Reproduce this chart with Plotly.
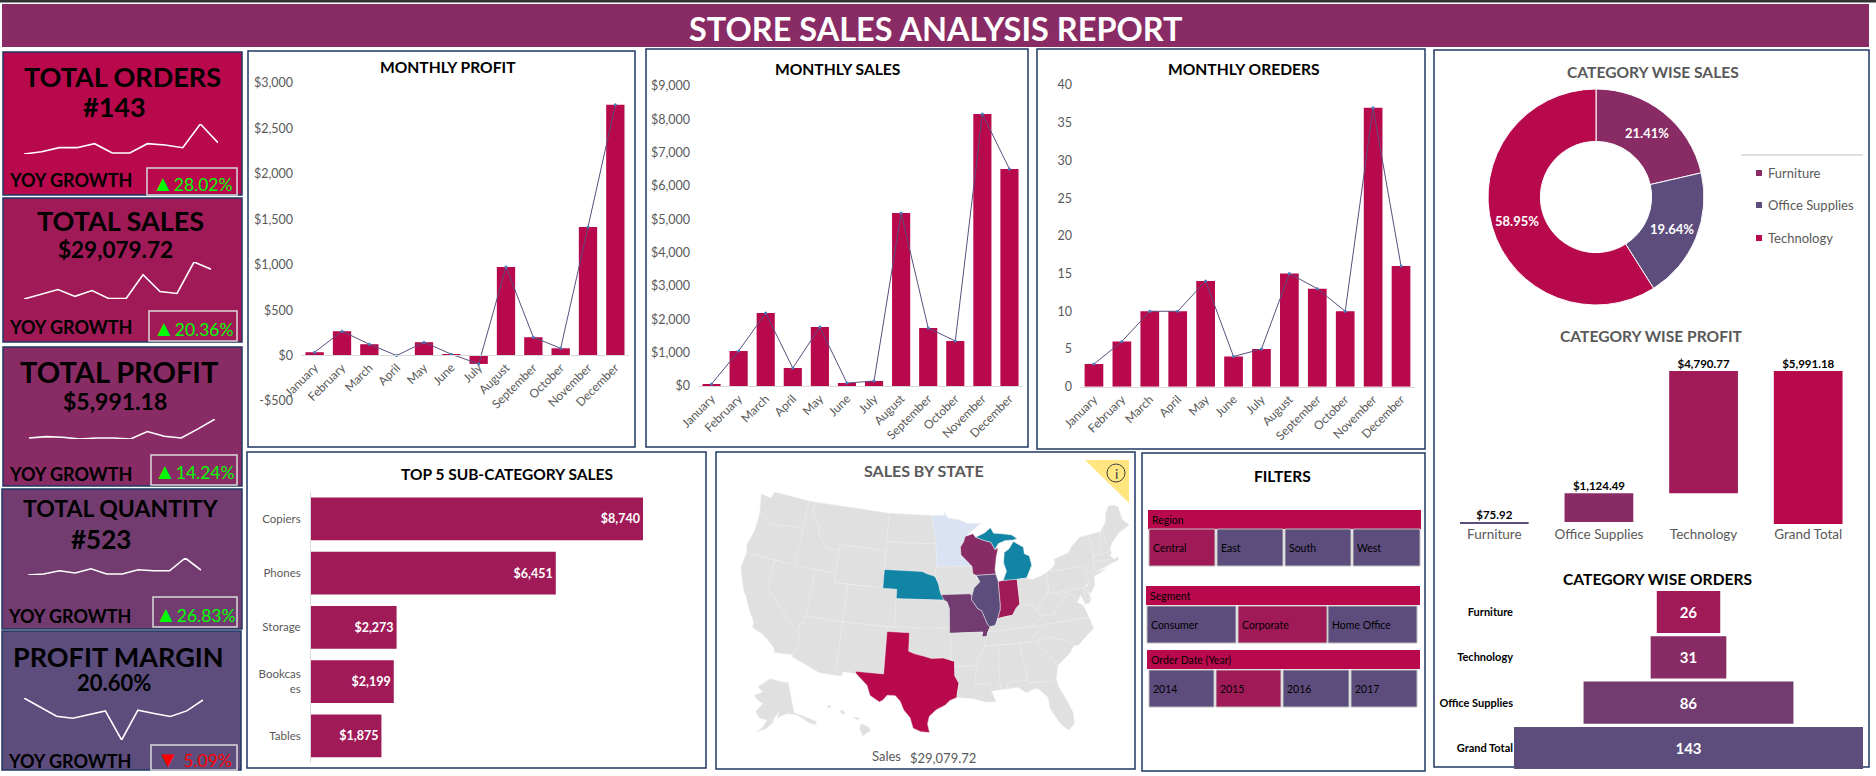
import plotly.graph_objects as go

W, H = 1876, 776
FONT = "Lato"
CRIMSON, RASPBERRY, PLUM, GRAPE, INDIGO = "#B7094C", "#A01A58", "#892B64", "#723C70", "#5C4D7D"
TEAL, ICE, LAND = "#1284A6", "#DAE3F3", "#E0E0E0"
NAVY, GREY = "#1F3864", "#595959"

MONTHS = ["January", "February", "March", "April", "May", "June", "July",
          "August", "September", "October", "November", "December"]
MONTHLY_PROFIT = [37, 268, 125, 0, 147, 15, -92, 975, 202, 80, 1415, 2760]
MONTHLY_SALES = [60, 1050, 2190, 540, 1770, 90, 150, 5190, 1740, 1350, 8160, 6510]
MONTHLY_ORDERS = [3, 6, 10, 10, 14, 4, 5, 15, 13, 10, 37, 16]
PROFIT_TICKS = [-500, 0, 500, 1000, 1500, 2000, 2500, 3000]
PROFIT_LABELS = ["-$500", "$0", "$500", "$1,000", "$1,500", "$2,000", "$2,500", "$3,000"]
SALES_TICKS = [0, 1000, 2000, 3000, 4000, 5000, 6000, 7000, 8000, 9000]
SALES_LABELS = ["$0", "$1,000", "$2,000", "$3,000", "$4,000", "$5,000", "$6,000", "$7,000", "$8,000", "$9,000"]
ORDER_TICKS = [0, 5, 10, 15, 20, 25, 30, 35, 40]
ORDER_LABELS = ["0", "5", "10", "15", "20", "25", "30", "35", "40"]

SUBCATS = ["Copiers", "Phones", "Storage", "Bookcas<br>es", "Tables"]
SUBCAT_SALES = [8740, 6451, 2273, 2199, 1875]
SUBCAT_TEXT = ["$8,740", "$6,451", "$2,273", "$2,199", "$1,875"]

CATS = ["Furniture", "Office Supplies", "Technology"]
CAT_SHARE = [21.41, 19.64, 58.95]
CAT_SHARE_TEXT = ["21.41%", "19.64%", "58.95%"]
WF_CATS = ["Furniture", "Office Supplies", "Technology", "Grand Total"]
WF_DELTA = [75.92, 1124.49, 4790.77, 5991.18]
WF_BASE = [0, 75.92, 1200.41, 0]
WF_TEXT = ["$75.92", "$1,124.49", "$4,790.77", "$5,991.18"]
FUNNEL_CATS = ["Furniture", "Technology", "Office Supplies", "Grand Total"]
FUNNEL_VALUES = [26, 31, 86, 143]

SPARK_ORDERS = [8, 15, 27, 27, 39, 11, 11, 39, 35, 27, 98, 42]
SPARK_SALES = [2, 17, 31, 10, 28, 3, 3, 76, 25, 19, 115, 93]
SPARK_PROFIT = [3, 7, 5, 0, 3, 3, 0, 22, 8, 3, 30, 59]
SPARK_QTY = [0, 3, 13, 6, 19, 3, 3, 16, 13, 13, 52, 15]
SPARK_MARGIN = [127, 100, 72, 66, 77, 88, 0, 90, 80, 71, 88, 121]

# State outlines (longitude, latitude), coarse
STATES = {
 "WA": [[(-124.7,48.4),(-123.0,48.3),(-122.8,49.0),(-117.03,49.0),(-117.04,46.0),(-119.0,45.93),(-120.5,45.7),(-122.2,45.6),(-123.4,46.2),(-124.0,46.3)]],
 "OR": [[(-124.0,46.3),(-123.4,46.2),(-122.2,45.6),(-120.5,45.7),(-119.0,45.93),(-117.04,46.0),(-116.9,45.0),(-117.03,44.2),(-117.03,42.0),(-124.2,42.0),(-124.5,42.8),(-124.0,44.5)]],
 "CA": [[(-124.2,42.0),(-120.0,42.0),(-120.0,39.0),(-114.63,35.0),(-114.13,34.3),(-114.7,32.72),(-117.12,32.53),(-117.3,33.0),(-118.4,33.75),(-119.2,34.15),(-120.6,34.55),(-120.65,35.15),(-121.9,36.6),(-122.5,37.5),(-123.0,38.0),(-123.8,39.3),(-124.35,40.3)]],
 "NV": [[(-120,42),(-114.04,42),(-114.04,36.2),(-114.7,36.1),(-114.63,35.0),(-120,39)]],
 "ID": [[(-117.03,49),(-116.05,49),(-116.05,48.0),(-115.7,47.45),(-114.7,46.7),(-114.4,45.55),(-113.45,44.95),(-113.0,44.45),(-111.05,44.48),(-111.05,42),(-117.03,42),(-117.03,44.2),(-116.9,45.0),(-117.04,46)]],
 "MT": [[(-116.05,49),(-104.05,49),(-104.05,45),(-111.05,45),(-111.05,44.48),(-113,44.45),(-113.45,44.95),(-114.4,45.55),(-114.7,46.7),(-115.7,47.45),(-116.05,48)]],
 "WY": [[(-111.05,45),(-104.05,45),(-104.05,41),(-111.05,41)]],
 "UT": [[(-114.04,42),(-111.05,42),(-111.05,41),(-109.05,41),(-109.05,37),(-114.04,37)]],
 "CO": [[(-109.05,41),(-102.05,41),(-102.05,37),(-109.05,37)]],
 "AZ": [[(-114.04,37),(-109.05,37),(-109.05,31.33),(-111.07,31.33),(-114.8,32.5),(-114.7,32.72),(-114.13,34.3),(-114.63,35),(-114.7,36.1),(-114.04,36.2)]],
 "NM": [[(-109.05,37),(-103.0,37),(-103.04,32),(-106.62,32),(-106.53,31.78),(-108.2,31.78),(-108.2,31.33),(-109.05,31.33)]],
 "ND": [[(-104.05,49),(-97.23,49),(-96.85,47.5),(-96.56,45.94),(-104.05,45.94)]],
 "SD": [[(-104.05,45.94),(-96.56,45.94),(-96.45,45.3),(-96.45,43.5),(-96.6,42.5),(-97.9,42.8),(-98.5,43.0),(-104.05,43)]],
 "NE": [[(-104.05,43),(-98.5,43),(-97.9,42.8),(-96.6,42.5),(-96.1,41.7),(-95.9,41.0),(-95.31,40.0),(-102.05,40),(-102.05,41),(-104.05,41)]],
 "KS": [[(-102.05,40),(-95.31,40),(-94.9,39.8),(-94.6,39.1),(-94.62,37),(-102.05,37)]],
 "OK": [[(-103,37),(-94.62,37),(-94.43,35.4),(-94.48,33.64),(-95.5,33.9),(-97.0,33.85),(-98.1,34.1),(-99.2,34.3),(-100,34.56),(-100,36.5),(-103,36.5)]],
 "TX": [[(-106.62,32),(-103.04,32),(-103,36.5),(-100,36.5),(-100,34.56),(-99.2,34.3),(-98.1,34.1),(-97,33.85),(-95.5,33.9),(-94.48,33.64),(-94.04,33.55),(-94.04,33),(-94.04,32),(-93.55,31.2),(-93.75,30.3),(-93.85,29.7),(-94.7,29.4),(-95.3,28.9),(-96.4,28.4),(-97.2,27.7),(-97.4,26.9),(-97.15,25.96),(-98.2,26.05),(-99.1,26.4),(-99.5,27.5),(-100.3,28.3),(-100.8,29.25),(-101.4,29.77),(-102.4,29.77),(-102.9,29.2),(-103.3,29.0),(-104.5,29.6),(-105.0,30.65),(-106.5,31.78)]],
 "MN": [[(-97.23,49),(-95.15,49),(-95.15,49.38),(-94.6,48.7),(-93,48.55),(-91.4,48.05),(-89.5,48.0),(-92.0,46.7),(-92.3,46.1),(-92.8,45.6),(-92.75,44.75),(-91.2,43.5),(-96.45,43.5),(-96.45,45.3),(-96.56,45.94),(-96.85,47.5)]],
 "IA": [[(-96.45,43.5),(-91.2,43.5),(-91.1,42.7),(-90.15,41.8),(-91.05,41.2),(-91.4,40.4),(-91.7,40.6),(-95.77,40.58),(-95.9,41),(-96.1,41.7),(-96.6,42.5)]],
 "MO": [[(-95.77,40.58),(-91.7,40.6),(-91.4,40.4),(-91.5,40.0),(-90.7,39.0),(-90.15,38.75),(-89.5,37.3),(-89.15,37.0),(-89.5,36.5),(-89.7,36.0),(-90.37,36.0),(-90.2,36.5),(-94.62,36.5),(-94.62,37),(-94.6,39.1),(-94.9,39.8),(-95.31,40)]],
 "AR": [[(-94.62,36.5),(-90.2,36.5),(-90.37,36.0),(-89.7,36.0),(-90.1,35.0),(-91.1,33.6),(-91.15,33.0),(-94.04,33),(-94.04,33.55),(-94.48,33.64),(-94.43,35.4)]],
 "LA": [[(-94.04,33),(-91.15,33),(-91.6,31.0),(-89.75,31.0),(-89.6,30.2),(-89.4,29.8),(-89.1,29.05),(-90.4,29.1),(-91.8,29.5),(-93.85,29.7),(-93.75,30.3),(-93.55,31.2),(-94.04,32)]],
 "WI": [[(-92.0,46.7),(-90.8,46.95),(-90.4,46.55),(-89.1,46.15),(-88.1,45.9),(-87.6,45.1),(-87.1,45.25),(-87.5,44.3),(-87.85,43.0),(-87.8,42.5),(-90.64,42.5),(-91.1,42.7),(-91.2,43.5),(-92.75,44.75),(-92.8,45.6),(-92.3,46.1)]],
 "IL": [[(-90.64,42.5),(-87.8,42.5),(-87.53,41.7),(-87.53,39.3),(-87.6,38.7),(-88.05,37.8),(-88.45,37.1),(-89.15,37.0),(-89.5,37.3),(-90.15,38.75),(-90.7,39.0),(-91.5,40.0),(-91.4,40.4),(-91.05,41.2),(-90.15,41.8)]],
 "IN": [[(-87.53,41.7),(-86.82,41.76),(-84.8,41.76),(-84.82,39.1),(-85.4,38.7),(-86.0,38.0),(-86.8,37.95),(-88.05,37.8),(-87.6,38.7),(-87.53,39.3)]],
 "MI": [[(-86.82,41.76),(-84.8,41.72),(-83.45,41.72),(-83.15,42.1),(-82.45,43.0),(-82.6,44.0),(-83.3,44.3),(-83.3,45.0),(-84.7,45.75),(-85.5,45.0),(-86.25,44.7),(-86.5,43.6),(-86.2,42.7)],
        [(-90.4,46.55),(-89.0,46.95),(-88.0,47.45),(-87.6,46.85),(-86.0,46.65),(-84.8,46.45),(-84.1,46.0),(-84.7,45.9),(-85.9,45.95),(-87.0,45.7),(-87.6,45.1),(-88.1,45.9),(-89.1,46.15)]],
 "KY": [[(-89.5,36.5),(-88.05,36.5),(-83.68,36.6),(-81.97,37.54),(-82.6,38.17),(-83.0,38.73),(-84.82,39.1),(-85.4,38.7),(-86,38),(-86.8,37.95),(-88.05,37.8),(-88.45,37.1),(-89.15,37)]],
 "TN": [[(-90.1,35),(-84.32,35),(-81.68,36.59),(-83.68,36.6),(-88.05,36.5),(-89.5,36.5),(-89.7,36)]],
 "MS": [[(-90.1,35),(-88.2,35),(-88.47,31.9),(-88.4,30.3),(-89.6,30.2),(-89.75,31),(-91.6,31),(-91.15,33),(-91.1,33.6)]],
 "AL": [[(-88.2,35),(-85.6,35),(-85.0,32.3),(-85.0,31.0),(-87.6,31),(-87.5,30.3),(-88.4,30.3),(-88.47,31.9)]],
 "GA": [[(-85.6,35),(-83.1,35),(-83.35,34.7),(-81.9,33.4),(-81.0,32.1),(-81.45,30.7),(-82.05,30.4),(-82.2,30.57),(-84.86,30.7),(-85.0,31),(-85.0,32.3)]],
 "FL": [[(-87.6,31),(-85.0,31),(-84.86,30.7),(-82.2,30.57),(-82.05,30.4),(-81.45,30.7),(-81.3,29.9),(-80.6,28.4),(-80.05,26.9),(-80.15,25.7),(-80.9,25.15),(-81.75,25.95),(-82.7,27.7),(-82.75,28.9),(-83.7,29.9),(-84.2,30.05),(-85.3,29.7),(-86.3,30.4),(-87.5,30.3)]],
 "SC": [[(-83.35,34.7),(-83.1,35),(-82.3,35.2),(-81.0,35.15),(-80.8,34.82),(-79.67,34.8),(-78.55,33.87),(-79.2,33.2),(-80.7,32.3),(-81,32.1),(-81.9,33.4)]],
 "NC": [[(-84.32,35),(-83.1,35),(-82.3,35.2),(-81,35.15),(-80.8,34.82),(-79.67,34.8),(-78.55,33.87),(-77.9,33.9),(-76.6,34.7),(-75.55,35.25),(-75.85,36.55),(-81.68,36.59)]],
 "VA": [[(-83.68,36.6),(-81.68,36.59),(-75.85,36.55),(-76.0,37.0),(-76.3,37.9),(-77.0,38.3),(-77.1,38.9),(-77.75,39.3),(-78.35,39.4),(-78.9,38.75),(-79.65,38.55),(-80.3,37.5),(-81.97,37.54)]],
 "WV": [[(-81.97,37.54),(-80.3,37.5),(-79.65,38.55),(-78.9,38.75),(-78.35,39.4),(-77.75,39.3),(-78.4,39.62),(-79.48,39.2),(-79.48,39.72),(-80.52,39.72),(-80.52,40.64),(-80.85,39.7),(-81.7,39.2),(-82.6,38.17)]],
 "MD": [[(-79.48,39.72),(-75.79,39.72),(-75.7,38.46),(-75.05,38.45),(-75.3,38.0),(-75.95,37.95),(-76.3,39.0),(-77.0,38.3),(-77.1,38.9),(-77.75,39.3),(-78.4,39.62),(-79.48,39.2)]],
 "DE": [[(-75.79,39.72),(-75.4,39.8),(-75.1,38.8),(-75.05,38.45),(-75.7,38.46)]],
 "PA": [[(-80.52,41.98),(-79.76,42.27),(-79.76,42.0),(-75.35,42.0),(-74.7,41.36),(-75.1,40.95),(-74.73,40.15),(-75.4,39.8),(-75.79,39.72),(-80.52,39.72)]],
 "OH": [[(-84.8,41.72),(-83.45,41.72),(-82.7,41.5),(-81.2,41.75),(-80.52,41.98),(-80.52,40.64),(-80.85,39.7),(-81.7,39.2),(-82.6,38.17),(-83,38.73),(-84.82,39.1)]],
 "NY": [[(-79.76,42.27),(-79.05,42.7),(-79.05,43.27),(-76.8,43.63),(-76.2,44.2),(-74.7,45.0),(-73.35,45.0),(-73.25,43.6),(-73.5,42.05),(-73.65,41.0),(-72.0,41.05),(-73.9,40.58),(-73.9,41.0),(-74.7,41.36),(-75.35,42.0),(-79.76,42.0)]],
 "NJ": [[(-74.7,41.36),(-73.9,41.0),(-74.0,40.45),(-74.1,39.7),(-74.9,38.95),(-75.5,39.5),(-74.73,40.15),(-75.1,40.95)]],
 "CT": [[(-73.5,42.05),(-71.8,42.02),(-71.85,41.32),(-73.65,41.0)]],
 "RI": [[(-71.8,42.02),(-71.38,42.02),(-71.15,41.5),(-71.85,41.32)]],
 "MA": [[(-73.5,42.05),(-73.27,42.75),(-71.3,42.7),(-70.8,42.87),(-70.6,42.65),(-71.0,42.3),(-70.55,41.8),(-70.0,42.0),(-69.95,41.65),(-71.15,41.5),(-71.38,42.02)]],
 "VT": [[(-73.35,45),(-71.5,45),(-72.45,42.73),(-73.27,42.75),(-73.25,43.6)]],
 "NH": [[(-71.5,45.0),(-71.08,45.3),(-70.98,43.4),(-70.7,43.07),(-70.8,42.87),(-71.3,42.7),(-72.45,42.73)]],
 "ME": [[(-71.08,45.3),(-70.3,45.9),(-70.0,46.7),(-69.2,47.45),(-68.3,47.35),(-67.8,47.07),(-67.8,45.7),(-67.0,44.85),(-68.8,44.4),(-70.2,43.6),(-70.7,43.07),(-70.98,43.4)]],
 "AK": [[(-141,69.6),(-141,60.3),(-136,58.7),(-130,55.9),(-131,55),(-134,56.2),(-137,58.2),(-140,59.7),(-145,60.3),(-148.5,60),(-151.5,59.2),(-150,61.2),(-153.5,59.3),(-154,58),(-158,56),(-163,54.8),(-160,56.2),(-157.5,58.7),(-162,59),(-165,60.8),(-161,63.5),(-165,64.5),(-168,65.6),(-162,67),(-166.5,68.4),(-156.5,71.3),(-148,70.4)]],
 "HI": [[(-155.9,20.25),(-155.1,19.9),(-154.8,19.5),(-155.7,18.95),(-156.05,19.7)],
        [(-156.7,20.95),(-156.0,20.8),(-156.4,20.6)],
        [(-158.25,21.55),(-157.95,21.7),(-157.65,21.3),(-158.1,21.3)],
        [(-159.75,22.1),(-159.4,22.23),(-159.3,21.95),(-159.6,21.9)]],
}
STATE_COLORS = {"TX": CRIMSON, "IN": RASPBERRY, "WI": PLUM, "MO": GRAPE, "IL": INDIGO,
                "NE": TEAL, "MI": TEAL, "MN": ICE}


def fx(px):
    return px / W


def fy(py):
    return 1 - py / H


shapes, notes = [], []


def rect(x0, y0, x1, y1, fill="rgba(0,0,0,0)", line=NAVY, lw=1.5):
    shapes.append(dict(type="rect", xref="paper", yref="paper", x0=fx(x0), x1=fx(x1),
                       y0=fy(y1), y1=fy(y0), fillcolor=fill, layer="below",
                       line=dict(color=line, width=lw)))


def txt(x, y, s, size, color="#000000", bold=False, anchor="center"):
    notes.append(dict(xref="paper", yref="paper", x=fx(x), y=fy(y), xanchor=anchor, yanchor="middle",
                      showarrow=False, text=f"<b>{s}</b>" if bold else s,
                      font=dict(family=FONT, size=size, color=color)))


fig = go.Figure()
axes = {}
axis_n = 1


def new_axes(xbox, ybox, xopts, yopts):
    """Adds an axis pair covering pixel box xbox/ybox, returns trace refs."""
    global axis_n
    n = axis_n
    axis_n += 1
    sfx = "" if n == 1 else str(n)
    base = dict(showgrid=False, zeroline=False, showline=False, ticks="", fixedrange=True, automargin=False)
    axes["xaxis" + sfx] = {**base, "domain": [fx(xbox[0]), fx(xbox[1])], "anchor": "free",
                           "position": fy(ybox[1]), **xopts}
    axes["yaxis" + sfx] = {**base, "domain": [fy(ybox[1]), fy(ybox[0])], "anchor": "free",
                           "position": fx(xbox[0]), **yopts}
    return "x" + sfx, "y" + sfx


# Page furniture
rect(0, 0, W, 2.5, fill="#333333", line="#333333", lw=0)
rect(2, 4, 1869, 47, fill=PLUM, line=PLUM, lw=0)
txt(936, 29, "STORE SALES ANALYSIS REPORT", 32.5, "#FFFFFF", True)

# KPI cards
CARDS = [
    ("TOTAL ORDERS", "#143", CRIMSON, (3, 52, 242, 195), 122, 77, 114, 107, 27, 27, SPARK_ORDERS,
     (24, 218, 124, 154), 180, (147, 168, 237, 195), "▲", "28.02%", "#00FF00"),
    ("TOTAL SALES", "$29,079.72", RASPBERRY, (3, 198, 242, 342), 120, 220, 115, 250, 27, 22.5, SPARK_SALES,
     (24, 211, 262, 299), 327, (149, 311, 237, 341), "▲", "20.36%", "#00FF00"),
    ("TOTAL PROFIT", "$5,991.18", PLUM, (3, 347, 242, 486), 119, 371, 115, 401, 29, 23, SPARK_PROFIT,
     (29, 215, 419, 439), 474, (151, 455, 237, 485), "▲", "14.24%", "#00FF00"),
    ("TOTAL QUANTITY", "#523", GRAPE, (2, 489, 242, 629), 121, 508, 101, 539, 23, 26, SPARK_QTY,
     (28, 201, 558, 575), 616, (153, 597, 237, 627), "▲", "26.83%", "#00FF00"),
    ("PROFIT MARGIN", "20.60%", INDIGO, (2, 631, 241, 770), 118, 656, 114, 682, 27, 22, SPARK_MARGIN,
     (24, 203, 698, 740), 761, (151, 745, 237, 770), "▼", " 5.09%", "#FF0000"),
]
for title, value, color, box, tx, ty, vx, vy, ts, vs, spark, sb, yoy, gb, arrow, growth, gcol in CARDS:
    rect(*box, fill=color)
    txt(tx, ty, title, ts, bold=True)
    txt(vx, vy, value, vs, bold=True)
    txt(box[0] + 4, yoy, "YOY GROWTH", 18, bold=True, anchor="left")
    rect(*gb, line="#D9D9D9", lw=1.5)
    txt((gb[0] + gb[2]) / 2, (gb[1] + gb[3]) / 2 + 1,
        f"<span style='font-size:22px'>{arrow}</span>{growth}", 17.5, gcol)
    xa, ya = new_axes((sb[0], sb[1]), (sb[2], sb[3]),
                      dict(visible=False, range=[0, 11]),
                      dict(visible=False, range=[min(spark), max(spark)]))
    fig.add_trace(go.Scatter(x=list(range(12)), y=spark, mode="lines", xaxis=xa, yaxis=ya,
                             line=dict(color="#FFFFFF", width=1.6), cliponaxis=False, hoverinfo="skip"))

# Monthly panels
PANELS = [
    ("MONTHLY PROFIT", (248, 51, 635, 447), 448, 67, (301, 629), (83, 401), 355, [-500, 3000],
     MONTHLY_PROFIT, PROFIT_TICKS, PROFIT_LABELS),
    ("MONTHLY SALES", (646, 49, 1028, 447), 837, 69, (698, 1023), (86, 386), 386, [0, 9000],
     MONTHLY_SALES, SALES_TICKS, SALES_LABELS),
    ("MONTHLY OREDERS", (1037, 49, 1425, 449), 1244, 69, (1080, 1415), (85, 386.7), 386.7, [0, 40],
     MONTHLY_ORDERS, ORDER_TICKS, ORDER_LABELS),
]
for title, box, tx, ty, xb, yb, zero, yr, vals, ticks, labels in PANELS:
    rect(*box, fill="#FFFFFF")
    txt(tx, ty, title, 15.6, bold=True)
    xa, ya = new_axes(xb, yb,
                      dict(type="category", range=[-0.5, 11.5], tickangle=-45, position=fy(zero),
                           showline=True, linecolor="#D9D9D9", linewidth=1,
                           tickfont=dict(family=FONT, size=12, color=GREY), tickmode="array",
                           tickvals=MONTHS, ticktext=MONTHS),
                      dict(range=yr, tickmode="array", tickvals=ticks, ticktext=labels,
                           ticklabelstandoff=8, tickfont=dict(family=FONT, size=12.5, color=GREY)))
    fig.add_trace(go.Bar(x=MONTHS, y=vals, width=0.67, marker=dict(color=CRIMSON, line=dict(width=0)),
                         xaxis=xa, yaxis=ya, hoverinfo="skip", cliponaxis=False))
    fig.add_trace(go.Scatter(x=MONTHS, y=vals, mode="lines+markers", xaxis=xa, yaxis=ya,
                             line=dict(color=INDIGO, width=1),
                             marker=dict(size=3, color="#4A7EBB"), hoverinfo="skip", cliponaxis=False))

# Top 5 sub-categories
rect(247, 452, 706, 768, fill="#FFFFFF")
txt(507, 474, "TOP 5 SUB-CATEGORY SALES", 15.5, bold=True)
xa, ya = new_axes((310, 700), (491.7, 763),
                  dict(visible=False, range=[0, 10236]),
                  dict(type="category", categoryorder="array", categoryarray=SUBCATS[::-1],
                       range=[-0.5, 4.5], showline=True, linecolor="#D9D9D9", linewidth=1,
                       ticklabelstandoff=7, tickfont=dict(family=FONT, size=11.5, color=GREY)))
fig.add_trace(go.Bar(y=SUBCATS, x=SUBCAT_SALES, orientation="h", width=0.79, text=SUBCAT_TEXT,
                     textposition="inside", insidetextanchor="end", textangle=0, constraintext="none",
                     textfont=dict(family=FONT, size=12.5, color="#FFFFFF", weight="bold"),
                     marker=dict(color=RASPBERRY, line=dict(width=0)), xaxis=xa, yaxis=ya, hoverinfo="skip"))

# Map panel
rect(716, 452, 1135, 769, fill="#FFFFFF")
txt(924, 471, "SALES BY STATE", 16, GREY, True)
shapes.append(dict(type="path", xref="paper", yref="paper", layer="below", fillcolor="#FFE680", line=dict(width=0),
                   path=f"M {fx(1085)} {fy(460)} L {fx(1129)} {fy(460)} L {fx(1129)} {fy(503)} Z"))
shapes.append(dict(type="circle", xref="paper", yref="paper", layer="below", line=dict(color="#404040", width=1),
                   x0=fx(1107), x1=fx(1125), y0=fy(482), y1=fy(464), fillcolor="rgba(0,0,0,0)"))
txt(1116, 473, "i", 14, "#404040")
txt(886, 756, "Sales", 13, GREY)
txt(943, 758, "$29,079.72", 13, GREY)


def clockwise(ring):
    area = sum(ring[i][0] * ring[(i + 1) % len(ring)][1] - ring[(i + 1) % len(ring)][0] * ring[i][1]
               for i in range(len(ring)))
    return ring if area < 0 else ring[::-1]


for code, rings in STATES.items():
    lons, lats = [], []
    for ring in rings:
        r = clockwise(ring)
        r = r + [r[0]]
        lons += [p[0] for p in r] + [None]
        lats += [p[1] for p in r] + [None]
    fig.add_trace(go.Scattergeo(lon=lons[:-1], lat=lats[:-1], mode="lines", fill="toself",
                                fillcolor=STATE_COLORS.get(code, LAND),
                                line=dict(color="#EBEBEB", width=0.5), hoverinfo="skip", geo="geo"))

# Filters
rect(1142, 453, 1425, 771, fill="#FFFFFF")
txt(1282, 476, "FILTERS", 15.5, bold=True)
FILTERS = [
    ("Region", (1148, 510, 1421, 529), (529, 566),
     [("Central", 1149, 1215, True), ("East", 1217, 1283, False), ("South", 1285, 1351, False), ("West", 1353, 1420, False)]),
    ("Segment", (1146, 586, 1420, 605), (606, 643),
     [("Consumer", 1147, 1236, False), ("Corporate", 1238, 1327, True), ("Home Office", 1328, 1417, False)]),
    ("Order Date (Year)", (1147, 650, 1420, 669), (670, 707),
     [("2014", 1149, 1214, False), ("2015", 1216, 1281, True), ("2016", 1283, 1349, False), ("2017", 1351, 1417, False)]),
]
for label, hb, (by0, by1), buttons in FILTERS:
    rect(*hb, fill=CRIMSON, line=CRIMSON, lw=0)
    txt(hb[0] + 2, (hb[1] + hb[3]) / 2, label, 10.5, anchor="left")
    for name, bx0, bx1, on in buttons:
        rect(bx0, by0, bx1, by1, fill=RASPBERRY if on else INDIGO, line="#BFBFBF", lw=1)
        txt(bx0 + 2, (by0 + by1) / 2, name, 10.5, anchor="left")

# Right column
rect(1434, 50, 1869, 767, fill="#FFFFFF")
txt(1653, 72, "CATEGORY WISE SALES", 15.6, GREY, True)
fig.add_trace(go.Pie(labels=CATS, values=CAT_SHARE, hole=0.515, sort=False, direction="clockwise", rotation=0,
                     domain=dict(x=[fx(1488), fx(1704)], y=[fy(305), fy(89)]),
                     marker=dict(colors=[PLUM, INDIGO, CRIMSON], line=dict(color="#FFFFFF", width=1)),
                     textinfo="none", hoverinfo="skip", showlegend=False))
for label, lx, ly in zip(CAT_SHARE_TEXT, [1647, 1672, 1517], [133, 229, 221]):
    txt(lx, ly, label, 13, "#FFFFFF", True)
shapes.append(dict(type="line", xref="paper", yref="paper", layer="below", x0=fx(1741), x1=fx(1863),
                   y0=fy(155), y1=fy(155), line=dict(color="#BFBFBF", width=1)))
for name, col, ly in zip(CATS, [PLUM, INDIGO, CRIMSON], [173, 205, 238]):
    rect(1756, ly - 3, 1762, ly + 3, fill=col, line=col, lw=0)
    txt(1766, ly, name, 13, GREY, anchor="left")

txt(1651, 336, "CATEGORY WISE PROFIT", 15.6, GREY, True)
xa, ya = new_axes((1442, 1860.5), (371, 524),
                  dict(type="category", categoryorder="array", categoryarray=WF_CATS, range=[-0.5, 3.5],
                       ticklabelstandoff=0, tickfont=dict(family=FONT, size=13.5, color=GREY)),
                  dict(visible=False, range=[0, 5991.18]))
fig.add_trace(go.Bar(x=WF_CATS, y=WF_DELTA, base=WF_BASE, width=0.657, cliponaxis=False,
                     marker=dict(color=[INDIGO, PLUM, RASPBERRY, CRIMSON], line=dict(width=0)),
                     xaxis=xa, yaxis=ya, hoverinfo="skip"))
fig.add_trace(go.Scatter(x=WF_CATS, y=[b + d for b, d in zip(WF_BASE, WF_DELTA)], mode="text", text=WF_TEXT,
                         textposition="top center", cliponaxis=False, xaxis=xa, yaxis=ya, hoverinfo="skip",
                         textfont=dict(family=FONT, size=11.5, color="#000000", weight="bold")))
txt(1657, 579, "CATEGORY WISE ORDERS", 15.6, "#000000", True)
xa, ya = new_axes((1514, 1863), (589.4, 770.6),
                  dict(visible=False, range=[-71.5, 71.5]),
                  dict(type="category", categoryorder="array", categoryarray=FUNNEL_CATS[::-1], range=[-0.5, 3.5],
                       ticklabelstandoff=1, tickfont=dict(family=FONT, size=11, color="#000000", weight="bold")))
fig.add_trace(go.Funnel(y=FUNNEL_CATS, x=FUNNEL_VALUES, orientation="h", textinfo="value", textposition="inside",
                        insidetextanchor="middle", constraintext="none",
                        textfont=dict(family=FONT, size=15, color="#FFFFFF", weight="bold"),
                        marker=dict(color=[RASPBERRY, PLUM, GRAPE, INDIGO], line=dict(width=0)),
                        connector=dict(visible=False), xaxis=xa, yaxis=ya, hoverinfo="skip"))

fig.update_layout(
    template="none", width=W, height=H, autosize=False, margin=dict(l=0, r=0, t=0, b=0, pad=0),
    paper_bgcolor="#FFFFFF", plot_bgcolor="rgba(0,0,0,0)", showlegend=False, barmode="overlay",
    funnelgap=0.07, font=dict(family=FONT), shapes=shapes, annotations=notes,
    geo=dict(scope="usa", projection=dict(type="albers usa"),
             domain=dict(x=[fx(690), fx(1180)], y=[fy(775), fy(450)]),
             showland=False, showlakes=False, showsubunits=False, showcountries=False,
             showcoastlines=False, showocean=False, showrivers=False, showframe=False,
             bgcolor="rgba(0,0,0,0)"),
    **axes,
)
fig.write_html("out.html", config={"displayModeBar": False},
               post_script="document.body.style.margin='0';document.body.style.overflow='hidden';")
